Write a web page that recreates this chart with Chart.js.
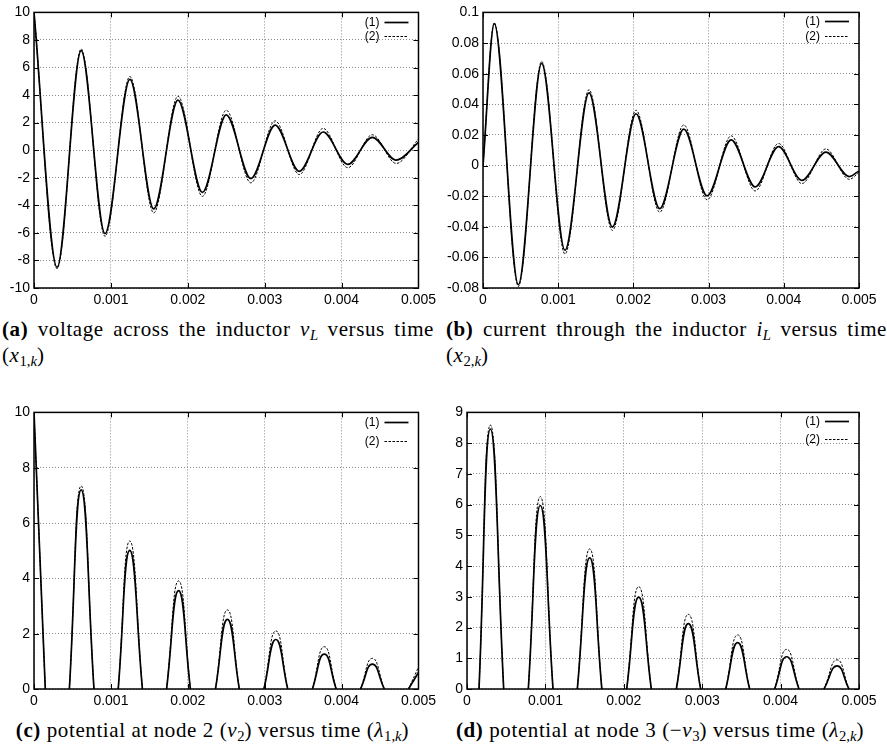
<!DOCTYPE html>
<html><head><meta charset="utf-8">
<script src="https://cdn.jsdelivr.net/npm/chart.js@4/dist/chart.umd.min.js"></script>
<style>
html,body{margin:0;padding:0;background:#fff;}
body{width:887px;height:747px;position:relative;overflow:hidden;}
.box{position:absolute;}
.cap{position:absolute;font-family:'Liberation Serif','Times New Roman',serif;font-size:21px;letter-spacing:0.6px;line-height:26px;color:#000;white-space:nowrap;}
.cap .j{text-align:justify;text-align-last:justify;white-space:normal;}
.cap sub{font-size:70%;vertical-align:-0.3em;line-height:0;letter-spacing:0;}
</style>
</head><body>
<div class="box" style="left:0;top:0;"><canvas id="ca" width="440" height="310"></canvas></div>
<div class="box" style="left:440px;top:0;"><canvas id="cb" width="447" height="310"></canvas></div>
<div class="box" style="left:0;top:400px;"><canvas id="cc" width="440" height="311"></canvas></div>
<div class="box" style="left:440px;top:400px;"><canvas id="cd" width="447" height="311"></canvas></div>

<div class="cap" style="left:2px;top:316px;width:432px;">
  <div class="j"><b>(a)</b> voltage across the inductor <i>v<sub>L</sub></i> versus time</div>
  <div>(<i>x</i><sub>1,<i>k</i></sub>)</div>
</div>
<div class="cap" style="left:446px;top:316px;width:441px;">
  <div class="j"><b>(b)</b> current through the inductor <i>i<sub>L</sub></i> versus time</div>
  <div>(<i>x</i><sub>2,<i>k</i></sub>)</div>
</div>
<div class="cap" style="left:0;top:717px;width:425px;text-align:center;"><b>(c)</b> potential at node 2 (<i>v</i><sub>2</sub>) versus time (<i>λ</i><sub>1,<i>k</i></sub>)</div>
<div class="cap" style="left:447px;top:717px;width:426px;text-align:center;"><b>(d)</b> potential at node 3 (−<i>v</i><sub>3</sub>) versus time (<i>λ</i><sub>2,<i>k</i></sub>)</div>

<script>
// ---------- shared x axis ----------
const xTicks = [0, 0.001, 0.002, 0.003, 0.004, 0.005];
const xTickLabels = ['0', '0.001', '0.002', '0.003', '0.004', '0.005'];
const seriesNames = ['(1)', '(2)'];

// ---------- (a) voltage across the inductor: start, successive peaks/troughs, end ----------
const timeA = [0, 0.0003, 0.000613, 0.000923, 0.001247, 0.001557, 0.001872, 0.00219, 0.0025,
  0.00282, 0.003136, 0.00345, 0.00376, 0.00408, 0.0044, 0.00471, 0.005];
const vL1 = [10, -8.5, 7.22, -6.05, 5.14, -4.26, 3.64, -3.06, 2.56, -2.06, 1.82, -1.53, 1.32, -1.03, 0.93, -0.72, 0.57];
const vL2 = [10, -8.6, 7.35, -6.25, 5.35, -4.55, 3.92, -3.35, 2.9, -2.37, 2.13, -1.77, 1.58, -1.27, 1.12, -0.96, 0.81];
const yTicksA = [-10, -8, -6, -4, -2, 0, 2, 4, 6, 8, 10];
const yLabelsA = ['-10', '-8', '-6', '-4', '-2', '0', '2', '4', '6', '8', '10'];

// ---------- (b) current through the inductor: start, successive peaks/troughs, end ----------
const timeB = [0, 0.00015, 0.00047, 0.00078, 0.00109, 0.00141, 0.00172, 0.002035, 0.00235,
  0.00267, 0.00298, 0.0033, 0.00362, 0.00393, 0.00424, 0.00456, 0.00487, 0.005];
const iL1 = [0, 0.0927, -0.0778, 0.0667, -0.0553, 0.0475, -0.0402, 0.0338, -0.0282, 0.0237, -0.0198,
  0.0168, -0.014, 0.0123, -0.0097, 0.0088, -0.0072, -0.0035];
const iL2 = [0, 0.0932, -0.079, 0.068, -0.0578, 0.0495, -0.0424, 0.0361, -0.0305, 0.0265, -0.0224,
  0.0194, -0.0166, 0.0144, -0.0118, 0.0108, -0.009, -0.0045];
const yTicksB = [-0.08, -0.06, -0.04, -0.02, 0, 0.02, 0.04, 0.06, 0.08, 0.1];
const yLabelsB = ['-0.08', '-0.06', '-0.04', '-0.02', '0', '0.02', '0.04', '0.06', '0.08', '0.1'];

// ---------- (c) potential at node 2 (null = clipped part, lies on the axis) ----------
const timeC = [0, 0.000147, 0.0003, 0.00046, 0.000613, 0.00078, 0.00094, 0.001095, 0.001245, 0.00141,
  0.00157, 0.001724, 0.00188, 0.002034, 0.0022, 0.00236, 0.002515, 0.00267, 0.00283, 0.00299,
  0.003145, 0.0033, 0.00346, 0.00362, 0.003775, 0.00393, 0.00409, 0.004246, 0.0044, 0.004556,
  0.00471, 0.00487, 0.005];
const v2s1 = [10, 0, null, 0, 7.2, 0, null, 0, 5.01, 0, null, 0, 3.56, 0, null, 0, 2.52, 0, null, 0,
  1.79, 0, null, 0, 1.26, 0, null, 0, 0.9, 0, null, 0, 0.6];
const v2s2 = [10, 0, null, 0, 7.34, 0, null, 0, 5.35, 0, null, 0, 3.91, 0, null, 0, 2.86, 0, null, 0,
  2.1, 0, null, 0, 1.53, 0, null, 0, 1.11, 0, null, 0, 0.79];
const yTicksC = [0, 2, 4, 6, 8, 10];
const yLabelsC = ['0', '2', '4', '6', '8', '10'];

// ---------- (d) potential at node 3 ----------
const timeD = [0.000153, 0.000298, 0.000468, 0.000625, 0.000782, 0.000935, 0.001097, 0.00125, 0.001407,
  0.001565, 0.00172, 0.00188, 0.002037, 0.00219, 0.002351, 0.00251, 0.00267, 0.002823, 0.00298,
  0.00314, 0.0033, 0.003452, 0.003605, 0.00376, 0.003924, 0.004077, 0.004235, 0.0044, 0.004553,
  0.00472, 0.004872];
const v3s1 = [0, 8.46, 0, null, 0, 5.97, 0, null, 0, 4.27, 0, null, 0, 2.99, 0, null, 0, 2.13, 0, null,
  0, 1.51, 0, null, 0, 1.05, 0, null, 0, 0.75, 0];
const v3s2 = [0, 8.59, 0, null, 0, 6.26, 0, null, 0, 4.56, 0, null, 0, 3.33, 0, null, 0, 2.43, 0, null,
  0, 1.76, 0, null, 0, 1.29, 0, null, 0, 0.95, 0];
const yTicksD = [0, 1, 2, 3, 4, 5, 6, 7, 8, 9];
const yLabelsD = ['0', '1', '2', '3', '4', '5', '6', '7', '8', '9'];

// ---------- drawing ----------
const TICK_FONT = {family: "'Liberation Sans', Arial, sans-serif", size: 14};

const framePlugin = {
  id: 'frame',
  afterDraw(chart) {
    const {ctx, chartArea: a, scales} = chart;
    const o = chart.options.plugins.frame;
    ctx.save();
    ctx.setLineDash([]);
    ctx.strokeStyle = '#000';
    ctx.lineWidth = 1;
    ctx.beginPath();
    scales.x.ticks.forEach(t => {
      const p = Math.round(scales.x.getPixelForValue(t.value)) + 0.5;
      ctx.moveTo(p, a.bottom); ctx.lineTo(p, a.bottom - 5);
      ctx.moveTo(p, a.top); ctx.lineTo(p, a.top + 5);
    });
    scales.y.ticks.forEach(t => {
      const p = Math.round(scales.y.getPixelForValue(t.value)) + 0.5;
      ctx.moveTo(a.left, p); ctx.lineTo(a.left + 5, p);
      ctx.moveTo(a.right, p); ctx.lineTo(a.right - 5, p);
    });
    ctx.stroke();
    ctx.lineWidth = 1.5;
    ctx.strokeRect(a.left, a.top, a.right - a.left, a.bottom - a.top);
    // key
    ctx.font = "12px 'Liberation Sans', Arial, sans-serif";
    ctx.textAlign = 'right';
    ctx.textBaseline = 'middle';
    ctx.fillStyle = '#000';
    chart.data.datasets.forEach((ds, i) => {
      const y = Math.round(a.top + o.rows[i]) + 0.5;
      ctx.setLineDash([]);
      ctx.fillText(ds.label, a.right - 39, y);
      ctx.setLineDash(ds.borderDash || []);
      ctx.lineWidth = ds.borderWidth;
      ctx.beginPath(); ctx.moveTo(a.right - 34, y); ctx.lineTo(a.right - 10, y); ctx.stroke();
    });
    ctx.restore();
  }
};

function pts(xs, ys) { return xs.map((x, i) => ({x: x, y: ys[i]})); }

function makeChart(id, times, s1, s2, mode, yMin, yMax, yTicks, yLabels, yWidth, pad, rows) {
  const common = {borderColor: '#000', pointRadius: 0, spanGaps: false, fill: false,
    cubicInterpolationMode: mode, tension: 0.5};
  new Chart(document.getElementById(id), {
    type: 'line',
    data: {
      datasets: [
        Object.assign({label: seriesNames[0], data: pts(times, s1), borderWidth: 1.7, borderDash: []}, common),
        Object.assign({label: seriesNames[1], data: pts(times, s2), borderWidth: 1, borderDash: [2.5, 1.5]}, common)
      ]
    },
    options: {
      responsive: false, animation: false,
      layout: {padding: {top: pad.top, right: pad.right, left: 0, bottom: 0}},
      plugins: {legend: {display: false}, tooltip: {enabled: false}, frame: {rows: rows}},
      scales: {
        x: {
          type: 'linear', min: 0, max: 0.005,
          afterBuildTicks: s => { s.ticks = xTicks.map(v => ({value: v})); },
          afterFit: s => { s.height = 22; },
          ticks: {callback: (v, i) => xTickLabels[i], font: TICK_FONT, color: '#000', padding: 4, maxRotation: 0, autoSkip: false},
          grid: {color: '#8a8a8a', lineWidth: 1, drawTicks: false},
          border: {display: false, dash: [1, 2]}
        },
        y: {
          type: 'linear', min: yMin, max: yMax,
          afterBuildTicks: s => { s.ticks = yTicks.map(v => ({value: v})); },
          afterFit: s => { s.width = yWidth; },
          ticks: {callback: (v, i) => yLabels[i], font: TICK_FONT, color: '#000', padding: 4, autoSkip: false},
          grid: {color: '#8a8a8a', lineWidth: 1, drawTicks: false},
          border: {display: false, dash: [1, 2]}
        }
      }
    },
    plugins: [framePlugin]
  });
}

makeChart('ca', timeA, vL1, vL2, 'monotone', -10, 10, yTicksA, yLabelsA, 34, {top: 9, right: 19}, [10, 24]);
makeChart('cb', timeB, iL1, iL2, 'monotone', -0.08, 0.1, yTicksB, yLabelsB, 43, {top: 9, right: 28}, [9, 24]);
makeChart('cc', timeC, v2s1, v2s2, 'default', 0, 10, yTicksC, yLabelsC, 34, {top: 10, right: 19}, [10, 29]);
makeChart('cd', timeD, v3s1, v3s2, 'default', 0, 9, yTicksD, yLabelsD, 27, {top: 10, right: 28}, [9, 27]);
</script>
</body></html>
